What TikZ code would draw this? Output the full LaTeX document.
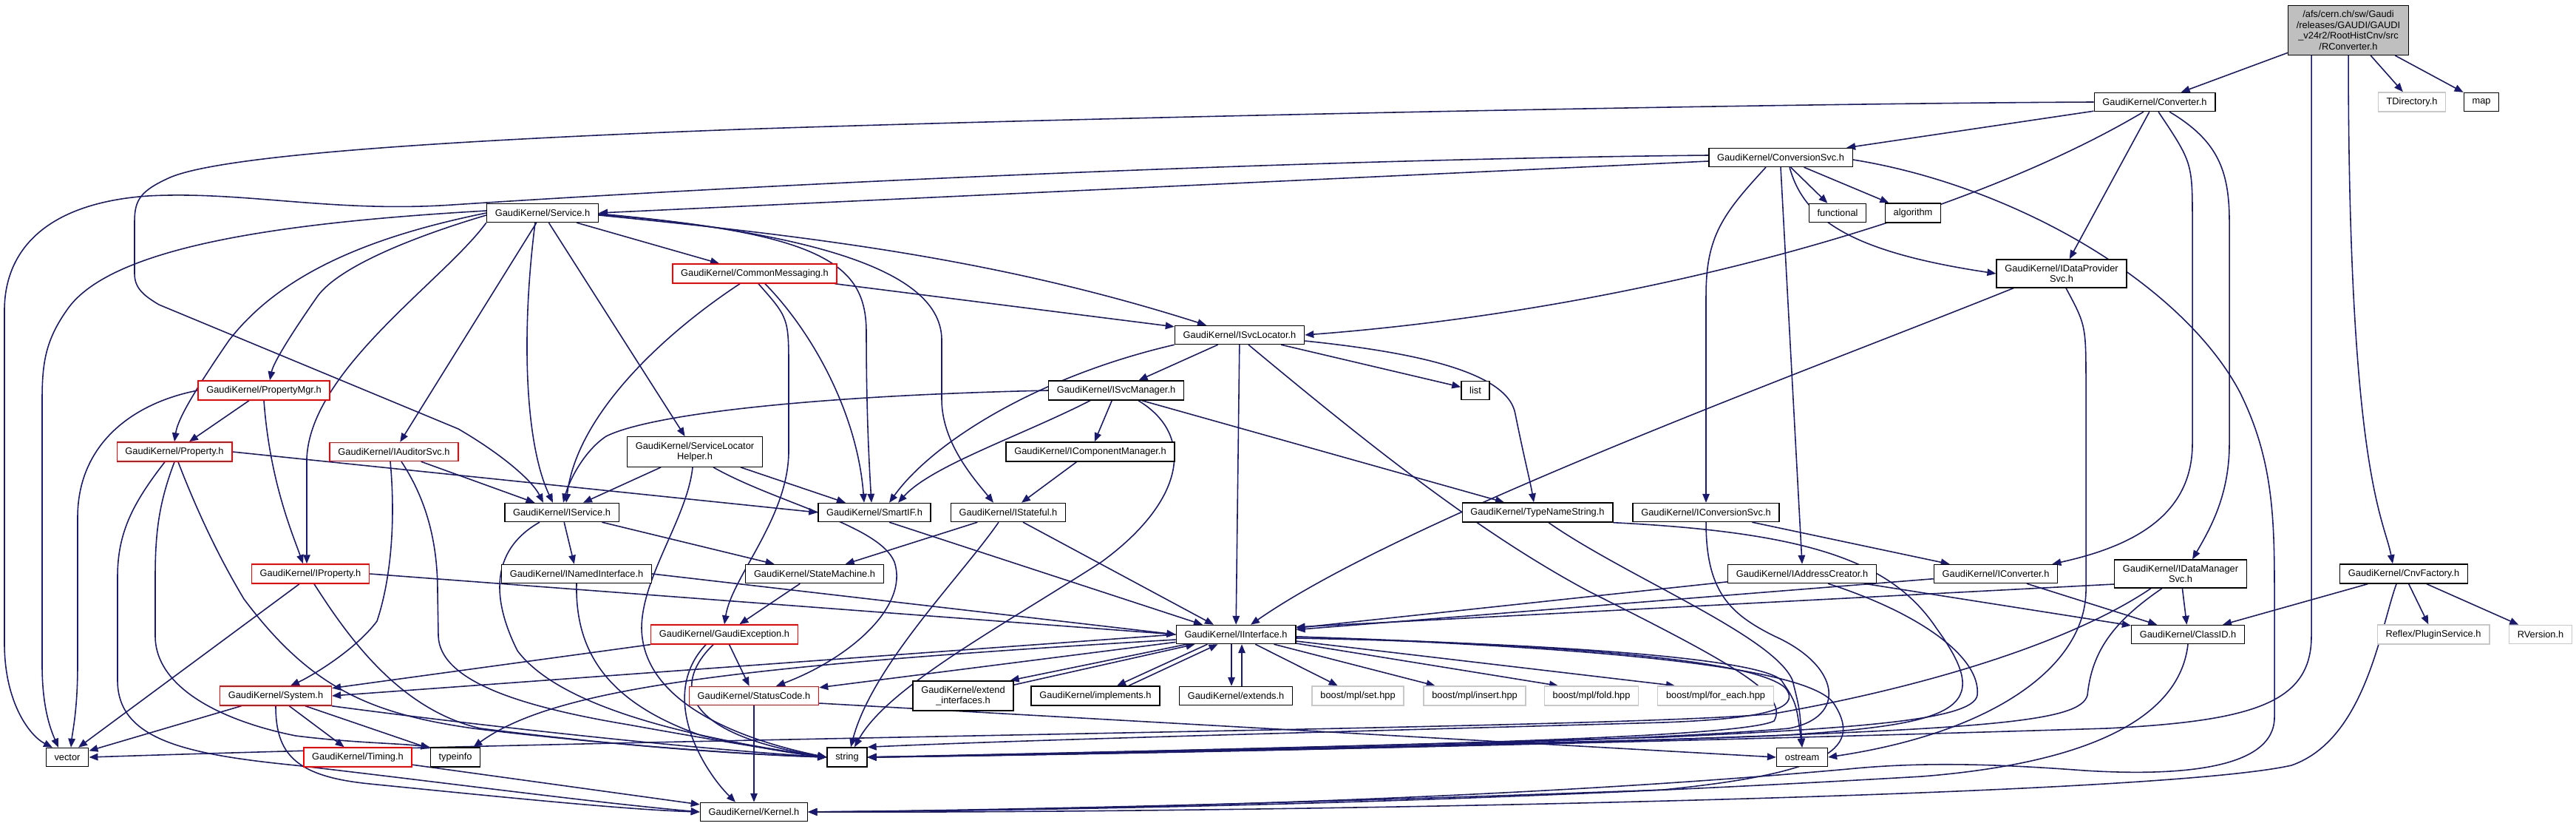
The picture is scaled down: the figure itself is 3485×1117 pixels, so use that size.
\documentclass[tikz,border=0pt]{standalone}
\usepackage{fontspec}
\setmainfont{Liberation Sans}
\usetikzlibrary{arrows.meta}
\usetikzlibrary{backgrounds}

\definecolor{edgeblue}{HTML}{191970}
\definecolor{rootgray}{HTML}{BFBFBF}
\definecolor{extgray}{HTML}{C8C8C8}

\begin{document}
\begin{tikzpicture}[x=0.1mm, y=-0.1mm,
    header/.style={draw=black, fill=white, line width=0.4pt, align=center,
        font=\fontsize{3.65}{4.1}\selectfont, inner xsep=3.2pt, inner ysep=2pt, minimum height=2.5mm},
    red header/.style={header, draw=red},
    gray header/.style={header, draw=extgray},
    root header/.style={header, fill=rootgray},
    inc/.style={draw=edgeblue, line width=0.45pt, -{Triangle[length=1.2mm, width=0.95mm]}}]
    \useasboundingbox (0,0) rectangle (3485,1117);

    \node [root header] (root) at (3177,41) {/afs/cern.ch/sw/Gaudi\\/releases/GAUDI/GAUDI\\\_v24r2/RootHistCnv/src\\/RConverter.h};
    \node [header] (conv) at (2915,138) {GaudiKernel/Converter.h};
    \node [gray header] (tdir) at (3263,138) {TDirectory.h};
    \node [header] (map) at (3357,138) {map};
    \node [header] (cnvsvc) at (2409,213) {GaudiKernel/ConversionSvc.h};
    \node [header] (functional) at (2486,288) {functional};
    \node [header] (algorithm) at (2588,288) {algorithm};
    \node [header] (idps) at (2789,370) {GaudiKernel/IDataProvider\\Svc.h};
    \node [header] (service) at (734,288) {GaudiKernel/Service.h};
    \node [red header] (commsg) at (1021,370) {GaudiKernel/CommonMessaging.h};
    \node [red header] (propmgr) at (357,528) {GaudiKernel/PropertyMgr.h};
    \node [red header] (property) at (236,611) {GaudiKernel/Property.h};
    \node [red header] (iauditor) at (533,611) {GaudiKernel/IAuditorSvc.h};
    \node [header] (iservice) at (760,693) {GaudiKernel/IService.h};
    \node [header] (slh) at (940,611) {GaudiKernel/ServiceLocator\\Helper.h};
    \node [header] (isvcloc) at (1677,453) {GaudiKernel/ISvcLocator.h};
    \node [header] (isvcmgr) at (1510,528) {GaudiKernel/ISvcManager.h};
    \node [header] (list) at (1996,528) {list};
    \node [header] (icompmgr) at (1475,611) {GaudiKernel/IComponentManager.h};
    \node [header] (smartif) at (1183,693) {GaudiKernel/SmartIF.h};
    \node [header] (istateful) at (1364,693) {GaudiKernel/IStateful.h};
    \node [header] (typename) at (2080,693) {GaudiKernel/TypeNameString.h};
    \node [header] (iconvsvc) at (2308,693) {GaudiKernel/IConversionSvc.h};
    \node [red header] (iproperty) at (420,776) {GaudiKernel/IProperty.h};
    \node [header] (inamed) at (780,776) {GaudiKernel/INamedInterface.h};
    \node [header] (statemach) at (1102,776) {GaudiKernel/StateMachine.h};
    \node [red header] (gexc) at (980,858) {GaudiKernel/GaudiException.h};
    \node [header] (iinterface) at (1672,858) {GaudiKernel/IInterface.h};
    \node [header] (iaddr) at (2438,776) {GaudiKernel/IAddressCreator.h};
    \node [header] (iconverter) at (2700,776) {GaudiKernel/IConverter.h};
    \node [header] (idms) at (2950,776) {GaudiKernel/IDataManager\\Svc.h};
    \node [header] (cnvfactory) at (3252,776) {GaudiKernel/CnvFactory.h};
    \node [header] (classid) at (2960,858) {GaudiKernel/ClassID.h};
    \node [gray header] (plugin) at (3292,858) {Reflex/PluginService.h};
    \node [gray header] (rversion) at (3437,858) {RVersion.h};
    \node [red header] (system) at (373,941) {GaudiKernel/System.h};
    \node [red header] (statuscode) at (1020,941) {GaudiKernel/StatusCode.h};
    \node [header] (extif) at (1303,941) {GaudiKernel/extend\\\_interfaces.h};
    \node [header] (implements) at (1482,941) {GaudiKernel/implements.h};
    \node [header] (extends) at (1672,941) {GaudiKernel/extends.h};
    \node [gray header] (mplset) at (1837,941) {boost/mpl/set.hpp};
    \node [gray header] (mplinsert) at (1995,941) {boost/mpl/insert.hpp};
    \node [gray header] (mplfold) at (2153,941) {boost/mpl/fold.hpp};
    \node [gray header] (mplforeach) at (2321,941) {boost/mpl/for\_each.hpp};
    \node [header] (vector) at (91,1024) {vector};
    \node [red header] (timing) at (484,1024) {GaudiKernel/Timing.h};
    \node [header] (typeinfo) at (616,1024) {typeinfo};
    \node [header] (string) at (1146,1024) {string};
    \node [header] (ostream) at (2438,1024) {ostream};
    \node [header] (kernel) at (1020,1098) {GaudiKernel/Kernel.h};

    \begin{scope}[on background layer]
    \draw[inc] (root) -- (conv);
    \draw[inc] (root) -- (tdir);
    \draw[inc] (root) -- (map);
    \draw[inc] (root.south) .. controls (3177,640) and (3225,700) .. ([xshift=-1.5mm]cnvfactory.north);
    \draw[inc] ([xshift=-5mm]root.south) -- (3127,860) .. controls (3127,950) and (3050,975) .. (2850,985) .. controls (2200,1005) and (1600,1018) .. (string.east);

    \draw[inc] (conv) -- (cnvsvc);
    \draw[inc] (conv.west) .. controls (2400,140) and (1500,158) .. (1000,175) .. controls (600,190) and (300,210) .. (230,240) .. controls (190,258) and (182,270) .. (182,300) -- (182,370) .. controls (182,390) and (195,400) .. (215,412) -- (620,580) .. controls (680,615) and (720,650) .. ([xshift=-2.5mm]iservice.north);
    \draw[inc] ([xshift=-1.5mm]conv.south) .. controls (2650,300) and (2200,420) .. (isvcloc.east);
    \draw[inc] (conv) -- (idps);
    \draw[inc] ([xshift=0.5mm]conv.south) .. controls (2966,220) .. (2966,300) -- (2966,600) .. controls (2966,700) and (2880,740) .. ([xshift=-0.8mm]iconverter.north east);
    \draw[inc] ([xshift=2mm]conv.south) .. controls (3000,190) and (3016,230) .. (3016,300) -- (3016,600) .. controls (3016,670) and (2990,715) .. ([xshift=1.6mm]idms.north);

    \draw[inc] ([yshift=-0.5mm]cnvsvc.west) -- (service.east);
    \draw[inc] ([yshift=0.3mm]cnvsvc.west) .. controls (1800,215) and (1100,245) .. (612,277) .. controls (450,288) and (330,258) .. (200,265) .. controls (60,275) and (6,340) .. (6,420) -- (6,870) .. controls (6,950) and (40,995) .. ([xshift=-2mm]vector.north);
    \draw[inc] (cnvsvc) -- (functional);
    \draw[inc] (cnvsvc) -- (algorithm);
    \draw[inc] ([xshift=1.2mm]cnvsvc.south) .. controls (2440,295) and (2500,340) .. (idps.west);
    \draw[inc] ([xshift=-2mm]cnvsvc.south) .. controls (2330,290) and (2308,320) .. (2308,400) -- (iconvsvc.north);
    \draw[inc] (cnvsvc.south) -- (iaddr.north);
    \draw[inc] ([yshift=-0.3mm]cnvsvc.east) .. controls (2720,250) and (2950,380) .. (3030,530) .. controls (3075,620) and (3077,700) .. (3077,800) -- (3077,970) .. controls (3077,1040) and (2950,1050) .. (2820,1042) .. controls (2700,1033) and (2600,1030) .. (2500,1040) .. controls (2000,1085) and (1400,1096) .. (kernel.east);

    \draw[inc] (service) -- (commsg);
    \draw[inc] ([yshift=-0.3mm]service.east) .. controls (1100,320) and (1350,350) .. ([xshift=-4.5mm]isvcloc.north);
    \draw[inc] ([yshift=-0.2mm]service.east) .. controls (1120,315) and (1172,360) .. (1172,450) .. controls (1172,560) and (1176,630) .. ([xshift=-0.4mm]smartif.north);
    \draw[inc] ([yshift=-0.1mm]service.east) .. controls (1150,320) and (1274,380) .. (1274,460) -- (1274,540) .. controls (1274,600) and (1320,650) .. ([xshift=-2mm]istateful.north);
    \draw[inc] ([yshift=0.3mm]service.west) .. controls (400,300) and (150,330) .. (90,420) .. controls (62,460) and (57,490) .. (57,540) -- (57,900) .. controls (57,960) and (70,990) .. ([xshift=-1.2mm]vector.north);
    \draw[inc] (service.west) .. controls (500,320) and (380,370) .. (310,460) .. controls (255,540) and (240,570) .. (property.north);
    \draw[inc] ([yshift=-0.3mm]service.west) .. controls (560,320) and (460,360) .. (430,400) .. controls (395,450) and (370,490) .. ([xshift=0.8mm]propmgr.north);
    \draw[inc] (service.south west) .. controls (600,380) and (420,500) .. (415,620) -- ([xshift=-0.5mm]iproperty.north);
    \draw[inc] (service) -- (iauditor);
    \draw[inc] ([xshift=-1mm]service.south) .. controls (705,450) and (710,600) .. ([xshift=-1.2mm]iservice.north);
    \draw[inc] (service) -- (slh);

    \draw[inc] ([xshift=-2mm]commsg.south) .. controls (900,450) and (780,560) .. ([xshift=0.6mm]iservice.north);
    \draw[inc] (commsg) -- (isvcloc);
    \draw[inc] ([xshift=1.4mm]commsg.south) .. controls (1100,450) and (1160,560) .. ([xshift=-1.4mm]smartif.north);
    \draw[inc] ([xshift=0.5mm]commsg.south) .. controls (1067,430) .. (1067,500) -- (1067,610) .. controls (1067,700) and (990,780) .. (gexc.north);

    \draw[inc] (propmgr) -- (property);
    \draw[inc] (propmgr.south) .. controls (365,650) and (395,720) .. ([xshift=-1mm]iproperty.north);
    \draw[inc] (propmgr.west) .. controls (180,545) and (105,600) .. (105,700) -- (105,900) .. controls (105,960) and (98,990) .. ([xshift=0.5mm]vector.north);

    \draw[inc] (property.east) -- (smartif.west);
    \draw[inc] ([xshift=-1.3mm]property.south) .. controls (180,680) and (159,720) .. (159,780) -- (159,920) .. controls (159,1000) and (250,1020) .. (400,1035) .. controls (600,1058) and (800,1085) .. (kernel.west);
    \draw[inc] (property.south) .. controls (215,680) and (210,720) .. (210,780) -- (210,860) .. controls (210,930) and (300,975) .. (400,995) .. controls (480,1005) and (540,1005) .. (typeinfo.north west);
    \draw[inc] ([xshift=0.5mm]property.south) .. controls (270,700) and (300,760) .. (330,810) .. controls (420,930) and (500,965) .. (640,985) .. controls (800,1005) and (1000,1020) .. (string.west);

    \draw[inc] ([xshift=-0.5mm]iauditor.south) .. controls (535,700) and (530,780) .. (510,840) .. controls (480,880) and (420,915) .. ([xshift=2mm]system.north);
    \draw[inc] ([xshift=1mm]iauditor.south) .. controls (580,680) and (592,740) .. (592,800) -- (593,860) .. controls (595,920) and (700,955) .. (850,980) .. controls (950,998) and (1050,1015) .. (string.west);
    \draw[inc] (iauditor) -- (iservice);

    \draw[inc] (slh) -- (iservice);
    \draw[inc] (slh) -- (smartif);
    \draw[inc] ([xshift=2.5mm]slh.south) .. controls (1050,680) and (1190,710) .. (1210,760) .. controls (1230,820) and (1150,890) .. ([xshift=3mm]statuscode.north);
    \draw[inc] ([xshift=-0.3mm]slh.south) .. controls (930,700) and (868,780) .. (868,850) .. controls (870,950) and (1000,1000) .. (string.west);

    \draw[inc] (isvcloc.south west) .. controls (1400,510) and (1260,600) .. ([xshift=2mm]smartif.north);
    \draw[inc] (isvcloc) -- (isvcmgr);
    \draw[inc] (isvcloc) -- (list);
    \draw[inc] ([yshift=-0.8mm]isvcloc.east) .. controls (1900,475) and (2040,500) .. (2050,560) .. controls (2062,620) and (2070,650) .. ([xshift=-0.5mm]typename.north);
    \draw[inc] (isvcloc) -- (iinterface);
    \draw[inc] ([xshift=1.2mm]isvcloc.south) .. controls (1850,600) and (2000,720) .. (2150,800) .. controls (2350,900) and (2420,940) .. (2400,975) .. controls (2350,1000) and (1800,1010) .. (string.east);

    \draw[inc] (isvcmgr.west) .. controls (1100,535) and (880,560) .. (820,590) .. controls (790,610) and (770,650) .. ([xshift=0.2mm]iservice.north);
    \draw[inc] ([xshift=-3.5mm]isvcmgr.south) .. controls (1380,590) and (1260,630) .. ([xshift=3.2mm]smartif.north);
    \draw[inc] (isvcmgr) -- (icompmgr);
    \draw[inc] ([xshift=3.5mm]isvcmgr.south) -- ([xshift=-4.5mm]typename.north);
    \draw[inc] ([xshift=3mm]isvcmgr.south) .. controls (1620,590) and (1600,680) .. (1490,760) .. controls (1350,850) and (1200,930) .. ([xshift=1mm]string.north);

    \draw[inc] (icompmgr) -- (istateful);
    \draw[inc] (istateful) -- (statemach);
    \draw[inc] ([xshift=-1.3mm]istateful.south) .. controls (1300,780) and (1180,900) .. ([xshift=0.5mm]string.north);
    \draw[inc] ([xshift=2mm]istateful.south) -- ([xshift=-3mm]iinterface.north);
    \draw[inc] ([xshift=2mm]smartif.south) -- ([xshift=-4.5mm]iinterface.north);

    \draw[inc] ([xshift=1.5mm]typename.south) .. controls (2200,780) and (2400,860) .. (2425,920) .. controls (2435,960) .. (ostream.north);
    \draw[inc] (typename.south east) .. controls (2450,720) and (2560,760) .. (2620,850) .. controls (2700,960) and (2650,980) .. (2400,995) .. controls (2000,1010) and (1500,1020) .. (string.east);
    \draw[inc] (iconvsvc) -- (iconverter);
    \draw[inc] (iconvsvc.south) .. controls (2308,800) and (2340,830) .. (2400,860) .. controls (2490,900) and (2500,970) .. (2420,985) .. controls (2200,1005) and (1500,1020) .. (string.east);
    \draw[inc] ([xshift=-6.5mm]idps.south) .. controls (2450,500) and (1900,700) .. ([xshift=2mm]iinterface.north);
    \draw[inc] ([xshift=0.6mm]idps.south) .. controls (2822,440) .. (2822,520) -- (2822,800) .. controls (2820,900) and (2700,990) .. (ostream.east);

    \draw[inc] (iservice) -- (statemach);
    \draw[inc] (iservice) -- (inamed);
    \draw[inc] ([xshift=-3mm]iservice.south) .. controls (670,740) and (660,800) .. (700,880) .. controls (760,960) and (950,1000) .. (string.west);
    \draw[inc] (inamed.east) -- (iinterface.west);
    \draw[inc] (inamed.south) .. controls (778,880) and (820,950) .. (950,995) .. controls (1030,1012) and (1080,1020) .. (string.west);
    \draw[inc] ([xshift=-1.5mm]iproperty.south) -- ([xshift=1.5mm]vector.north);
    \draw[inc] ([xshift=0.5mm]iproperty.south) .. controls (470,860) and (540,960) .. (650,985) .. controls (850,1010) and (1000,1020) .. (string.west);
    \draw[inc] (iproperty.east) -- (iinterface.west);
    \draw[inc] (statemach) -- (gexc);

    \draw[inc] (gexc) -- (system);
    \draw[inc] (gexc) -- (statuscode);
    \draw[inc] ([xshift=-1.5mm]gexc.south) .. controls (915,920) and (910,990) .. (string.west);
    \draw[inc] ([xshift=-2.5mm]gexc.south) .. controls (890,940) and (950,1040) .. ([xshift=-2.5mm]kernel.north);
    \draw[inc] (system) -- (vector);
    \draw[inc] (system.south) .. controls (373,1020) and (400,1050) .. (500,1060) .. controls (700,1080) and (850,1095) .. (kernel.west);
    \draw[inc] (system) -- (timing);
    \draw[inc] (system) -- (typeinfo);
    \draw[inc] (system.south east) .. controls (600,975) and (900,1010) .. (string.west);
    \draw[inc] (timing) -- (kernel);
    \draw[inc] (statuscode) -- (kernel);
    \draw[inc] ([yshift=-1mm]statuscode.east) -- (ostream.west);

    \draw[inc] (iinterface.west) -- (system.east);
    \draw[inc] ([yshift=-0.7mm]iinterface.west) .. controls (1000,900) and (750,930) .. ([xshift=-1mm]typeinfo.north east);
    \draw[inc] (iinterface) -- (statuscode);
    \draw[inc] ([xshift=1.5mm]iinterface.south west) -- ([xshift=-0.5mm]extif.north east);
    \draw[inc] ([yshift=-0.6mm]extif.north east) -- ([xshift=2.6mm]iinterface.south west);
    \draw[inc] ([xshift=4.3mm]iinterface.south west) -- ([xshift=2.9mm]implements.north);
    \draw[inc] ([xshift=4.5mm]implements.north) -- ([xshift=5.7mm]iinterface.south west);
    \draw[inc] ([xshift=-0.6mm]iinterface.south) -- ([xshift=-0.6mm]extends.north);
    \draw[inc] ([xshift=0.8mm]extends.north) -- ([xshift=0.8mm]iinterface.south);
    \draw[inc] (iinterface) -- (mplset);
    \draw[inc] (iinterface) -- (mplinsert);
    \draw[inc] ([yshift=-1.2mm]iinterface.east) -- ([xshift=-4.5mm]mplfold.north);
    \draw[inc] ([yshift=-0.9mm]iinterface.east) -- ([xshift=-5.5mm]mplforeach.north);
    \draw[inc] ([yshift=-0.5mm]iinterface.east) .. controls (2100,870) and (2380,890) .. (2410,920) .. controls (2430,950) .. (ostream.north);
    \draw[inc] ([yshift=-0.3mm]iinterface.east) .. controls (2100,872) and (2370,890) .. (2415,930) .. controls (2440,960) and (2380,972) .. (2250,977) .. controls (1800,990) and (1400,1000) .. (string.north east);
    \draw[inc] ([yshift=-0.3mm]iinterface.east) .. controls (2150,875) and (2440,900) .. (2480,950) .. controls (2520,1010) and (2480,1045) .. (2250,1068) .. controls (1800,1085) and (1400,1095) .. (kernel.east);

    \draw[inc] (iaddr) -- (iinterface);
    \draw[inc] (iaddr) -- (classid);
    \draw[inc] ([xshift=3.5mm]iaddr.south) .. controls (2600,830) and (2680,890) .. (2675,940) .. controls (2670,975) and (2500,985) .. (2250,997) .. controls (1800,1010) and (1400,1020) .. (string.east);
    \draw[inc] (iconverter) -- (iinterface);
    \draw[inc] (iconverter) -- (classid);
    \draw[inc] ([yshift=-1.4mm]idms.west) -- ([yshift=1mm]iinterface.east);
    \draw[inc] (idms) -- (classid);
    \draw[inc] ([xshift=-2.5mm]idms.south) .. controls (2860,840) and (2830,880) .. (2824,940) .. controls (2815,975) and (2700,985) .. (2250,1000) .. controls (1800,1012) and (1400,1020) .. (string.east);
    \draw[inc] ([xshift=-4mm]idms.south) .. controls (2800,870) and (2600,930) .. (2400,965) .. controls (2200,985) and (1000,995) .. (vector.east);

    \draw[inc] (cnvfactory) -- (classid);
    \draw[inc] (cnvfactory) -- (plugin);
    \draw[inc] (cnvfactory) -- (rversion);
    \draw[inc] ([xshift=-1mm]cnvfactory.south) .. controls (3220,850) and (3200,1000) .. (3100,1035) .. controls (2900,1080) and (1600,1100) .. (kernel.east);
    \draw[inc] (classid.south) .. controls (2950,960) and (2850,1030) .. (2600,1050) .. controls (2000,1085) and (1500,1095) .. (kernel.east);
    \end{scope}
\end{tikzpicture}
\end{document}
